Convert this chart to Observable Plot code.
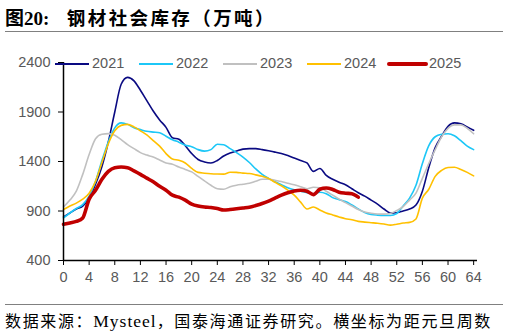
<!DOCTYPE html>
<html><head><meta charset="utf-8">
<script src="https://cdn.jsdelivr.net/npm/d3@7"></script>
<script src="https://cdn.jsdelivr.net/npm/@observablehq/plot@0.6"></script>
<style>
body{margin:0;background:#fff;width:510px;height:333px;overflow:hidden;position:relative;font-family:"Liberation Sans",Arial,sans-serif;}
#title{position:absolute;left:5px;top:3px;font-family:"Liberation Serif","Noto Sans CJK SC",serif;font-weight:bold;font-size:19px;color:#000;white-space:nowrap;}
#title .cjk{font-family:"Noto Sans CJK SC",sans-serif;font-weight:bold;letter-spacing:2.4px;font-size:18.5px;margin-left:8px;}
.rule{position:absolute;left:5px;width:498px;height:0;border-top:1.5px solid #808080;}
#chart{position:absolute;left:0;top:34px;}
#legend{position:absolute;left:0;top:0;width:510px;height:90px;}
.lt{position:absolute;font-family:"Liberation Sans",Arial,sans-serif;font-size:14.5px;color:#595959;white-space:nowrap;}
#foot{position:absolute;left:5px;top:308px;font-family:"Noto Sans CJK SC",sans-serif;font-size:16px;letter-spacing:1.65px;color:#000;white-space:nowrap;}
#foot .lat{font-family:"Liberation Serif",serif;font-size:17.5px;letter-spacing:1px;}
</style></head><body>
<div id="title">图20:&nbsp;&nbsp;<span class="cjk">钢材社会库存（万吨）</span></div>
<div class="rule" style="top:31px"></div>
<div id="chart"></div>
<div id="legend"></div>
<div class="rule" style="top:304px"></div>
<div id="foot">数据来源：<span class="lat">Mysteel</span>，国泰海通证券研究。横坐标为距元旦周数</div>
<script>
const weeks = d3.range(0, 65);
const years = ["2021", "2022", "2023", "2024", "2025"];
const colors = ["#0a0a82", "#1cc7f7", "#c0c0c0", "#ffc000", "#c00000"];
const widths = [1.6, 1.6, 1.6, 1.6, 3.6];
const yTicks = [400, 900, 1400, 1900, 2400];
const xTicks = d3.range(0, 65, 4);

const v2021 = [840,880,920,950,1030,1170,1350,1600,1900,2180,2250,2215,2120,2015,1910,1820,1745,1640,1625,1560,1480,1420,1395,1385,1410,1455,1485,1505,1525,1530,1530,1520,1508,1495,1480,1460,1435,1410,1385,1300,1330,1260,1220,1190,1165,1125,1085,1050,1010,970,920,880,883,900,920,960,1100,1340,1540,1655,1755,1790,1780,1750,1715];
const v2022 = [830,880,925,965,1050,1200,1410,1600,1740,1790,1775,1740,1722,1705,1697,1690,1655,1620,1595,1565,1550,1520,1505,1520,1575,1570,1530,1490,1445,1390,1325,1270,1230,1195,1165,1135,1115,1100,1085,1075,1090,1075,1035,1015,995,960,920,885,865,858,855,855,875,950,1030,1160,1380,1560,1650,1675,1681,1660,1610,1555,1520];
const v2023 = [940,1010,1100,1270,1470,1630,1676,1682,1665,1620,1570,1530,1490,1465,1445,1415,1385,1372,1345,1320,1295,1250,1205,1160,1125,1120,1145,1160,1170,1180,1200,1220,1222,1210,1198,1180,1165,1145,1125,1140,1135,1100,1060,1020,985,950,915,890,878,870,868,875,905,945,1010,1080,1230,1380,1520,1650,1735,1770,1770,1735,1680];
const v2024 = [915,950,980,1020,1080,1200,1390,1580,1710,1765,1775,1750,1710,1668,1610,1555,1480,1425,1412,1385,1330,1290,1282,1276,1273,1272,1292,1290,1283,1278,1265,1250,1228,1190,1155,1110,1060,990,920,940,910,880,860,840,822,812,795,788,782,776,768,757,766,778,785,820,1030,1120,1250,1310,1340,1342,1320,1290,1255];
const v2025 = [765,780,795,830,1020,1110,1220,1300,1338,1345,1338,1305,1270,1232,1195,1150,1110,1060,1040,1010,970,950,940,935,925,910,915,922,930,938,955,975,1000,1030,1060,1085,1103,1110,1100,1065,1120,1133,1118,1090,1080,1075,1040];

const series = [v2021, v2022, v2023, v2024, v2025];
const rows = [];
series.forEach((vals, i) => vals.forEach((v, k) => rows.push({year: years[i], week: weeks[k], value: v})));

const lineMarks = years.map((y, i) => Plot.line(rows.filter(r => r.year === y), {
  x: "week", y: "value", stroke: colors[i], strokeWidth: widths[i], curve: "monotone-x", strokeLinejoin: "round"
}));

const chart = Plot.plot({
  width: 510, height: 266,
  marginLeft: 63, marginRight: 33, marginTop: 28, marginBottom: 40,
  style: {fontFamily: "Liberation Sans, Arial, sans-serif", fontSize: "14.5px", background: "transparent"},
  x: {domain: [0, 64.6], ticks: xTicks, label: null},
  y: {domain: [400, 2400], ticks: yTicks, label: null},
  marks: [
    ...lineMarks,
    Plot.ruleX([0], {stroke: "#000", strokeWidth: 1.5}),
    Plot.ruleY([400], {stroke: "#000", strokeWidth: 1.5}),
    Plot.axisY({ticks: yTicks, tickFormat: d3.format("d"), tickSize: 5, tickPadding: 8, stroke: "#000", fill: "#595959", label: null, fontSize: 14.5}),
    Plot.axisX({ticks: xTicks, tickFormat: d3.format("d"), tickSize: 5, tickPadding: 6, stroke: "#000", fill: "#595959", label: null, fontSize: 14.5})
  ]
});
document.getElementById("chart").appendChild(chart);

// legend
const leg = document.getElementById("legend");
const legX = [55, 139, 223, 307, 389];
const ns = "http://www.w3.org/2000/svg";
const lsvg = document.createElementNS(ns, "svg");
lsvg.setAttribute("width", 510);
lsvg.setAttribute("height", 90);
lsvg.style.position = "absolute";
lsvg.style.left = "0px";
lsvg.style.top = "0px";
leg.appendChild(lsvg);
years.forEach((y, i) => {
  const ln = document.createElementNS(ns, "line");
  ln.setAttribute("x1", legX[i]);
  ln.setAttribute("x2", legX[i] + (i === 4 ? 37 : 34));
  ln.setAttribute("y1", 64);
  ln.setAttribute("y2", 64);
  ln.setAttribute("stroke", colors[i]);
  ln.setAttribute("stroke-width", i === 4 ? 4 : 1.8);
  if (i === 4) ln.setAttribute("stroke-linecap", "round");
  lsvg.appendChild(ln);
  const t = document.createElement("div");
  t.className = "lt";
  t.textContent = y;
  t.style.left = (legX[i] + (i === 4 ? 40 : 37)) + "px";
  t.style.top = "55px";
  leg.appendChild(t);
});
</script>
</body></html>
